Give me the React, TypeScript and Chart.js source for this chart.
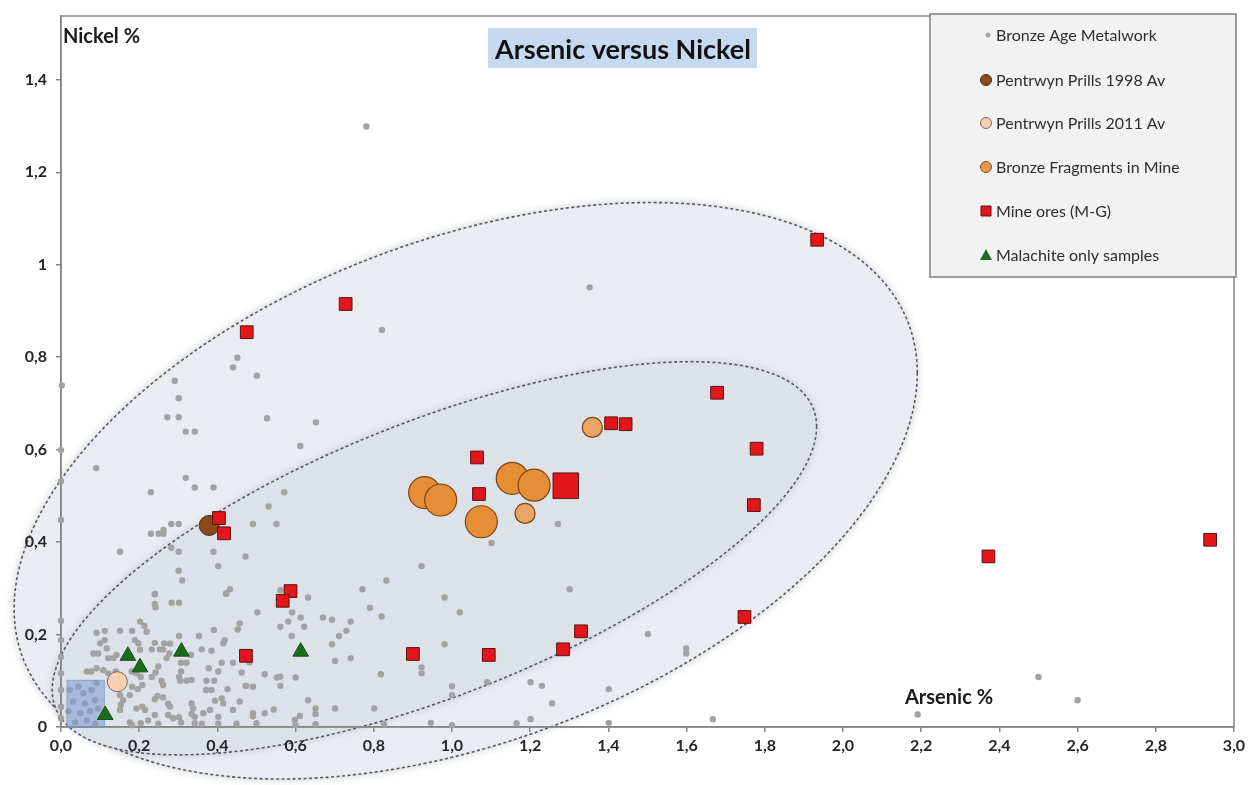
import React, { useEffect, useRef } from 'react';
import { Chart, registerables } from 'chart.js';

Chart.register(...registerables);

// ---------- data ----------
const metalworkArsenic = [
  0.781, 1.352, 0.821, 0.451, 0.440, 0.501, 0.291, 0.002, 0.301, 0.272,
  0.301, 0.319, 0.342, 0.527, 0.652, 0.612, 0.090, 0.319, 0.342, 0.390,
  0.230, 0.571, 0.531, 0.491, 0.551, 0.282, 0.301, 0.230, 0.250, 0.262,
  0.262, 0.151, 0.282, 0.301, 0.390, 0.472, 0.402, 0.301, 0.310, 0.240,
  0.432, 0.422, 0.561, 0.632, 0.771, 0.000, 0.000, 0.000, 0.000, 1.271,
  1.101, 0.922, 0.832, 1.301, 0.981, 0.790, 1.020, 0.820, 1.501, 1.599,
  1.599, 0.981, 0.922, 0.922, 0.818, 1.000, 1.000, 1.090, 1.201, 1.230,
  1.256, 1.401, 1.401, 1.201, 1.165, 1.667, 0.946, 1.000, 0.826, 0.801,
  2.191, 2.500, 2.600, 0.502, 0.591, 0.613, 0.581, 0.561, 0.622, 0.670,
  0.693, 0.741, 0.730, 0.711, 0.590, 0.693, 0.701, 0.741, 0.482, 0.521,
  0.552, 0.561, 0.600, 0.561, 0.474, 0.491, 0.632, 0.544, 0.521, 0.491,
  0.491, 0.500, 0.598, 0.611, 0.600, 0.651, 0.651, 0.651, 0.701, 0.240,
  0.240, 0.242, 0.283, 0.302, 0.423, 0.202, 0.213, 0.219, 0.091, 0.112,
  0.151, 0.182, 0.302, 0.353, 0.391, 0.457, 0.452, 0.100, 0.112, 0.117,
  0.189, 0.198, 0.202, 0.240, 0.264, 0.279, 0.232, 0.253, 0.261, 0.419,
  0.415, 0.360, 0.083, 0.095, 0.121, 0.134, 0.142, 0.277, 0.270, 0.385,
  0.332, 0.321, 0.307, 0.307, 0.249, 0.242, 0.411, 0.440, 0.066, 0.077,
  0.091, 0.108, 0.121, 0.140, 0.181, 0.193, 0.204, 0.208, 0.232, 0.257,
  0.261, 0.302, 0.305, 0.321, 0.334, 0.378, 0.402, 0.462, 0.182, 0.196,
  0.372, 0.392, 0.371, 0.385, 0.426, 0.472, 0.151, 0.159, 0.153, 0.176,
  0.240, 0.247, 0.261, 0.274, 0.279, 0.334, 0.338, 0.394, 0.411, 0.415,
  0.440, 0.457, 0.151, 0.193, 0.208, 0.215, 0.240, 0.274, 0.287, 0.302,
  0.307, 0.334, 0.342, 0.364, 0.381, 0.402, 0.176, 0.182, 0.204, 0.223,
  0.249, 0.342, 0.360, 0.402, 0.449, 0.023, 0.044, 0.057, 0.078, 0.091,
  0.031, 0.061, 0.087, 0.019, 0.049, 0.074, 0.095, 0.036, 0.066, 0.087,
  0.000, 0.000, 0.000, 0.000, 0.000, 0.000,
];
const metalworkNickel = [
  1.299, 0.951, 0.859, 0.799, 0.778, 0.760, 0.749, 0.739, 0.711, 0.670,
  0.670, 0.639, 0.639, 0.668, 0.659, 0.608, 0.560, 0.539, 0.518, 0.518,
  0.508, 0.508, 0.477, 0.439, 0.439, 0.439, 0.439, 0.418, 0.418, 0.426,
  0.418, 0.379, 0.388, 0.379, 0.379, 0.369, 0.348, 0.338, 0.317, 0.287,
  0.298, 0.289, 0.296, 0.280, 0.298, 0.599, 0.531, 0.448, 0.230, 0.439,
  0.398, 0.348, 0.317, 0.298, 0.280, 0.258, 0.248, 0.239, 0.201, 0.170,
  0.159, 0.179, 0.129, 0.116, 0.114, 0.088, 0.069, 0.097, 0.097, 0.089,
  0.051, 0.082, 0.009, 0.017, 0.008, 0.017, 0.009, 0.004, 0.006, 0.040,
  0.027, 0.108, 0.058, 0.248, 0.248, 0.237, 0.228, 0.217, 0.217, 0.237,
  0.232, 0.228, 0.208, 0.197, 0.197, 0.179, 0.143, 0.149, 0.140, 0.114,
  0.107, 0.109, 0.107, 0.089, 0.089, 0.087, 0.058, 0.038, 0.030, 0.030,
  0.023, 0.008, 0.015, 0.024, 0.004, 0.040, 0.028, 0.006, 0.040, 0.288,
  0.266, 0.259, 0.269, 0.269, 0.288, 0.228, 0.219, 0.206, 0.204, 0.208,
  0.208, 0.208, 0.197, 0.197, 0.210, 0.224, 0.211, 0.181, 0.188, 0.170,
  0.188, 0.181, 0.167, 0.182, 0.181, 0.180, 0.168, 0.168, 0.168, 0.188,
  0.181, 0.168, 0.159, 0.159, 0.149, 0.149, 0.156, 0.159, 0.149, 0.165,
  0.156, 0.139, 0.139, 0.120, 0.131, 0.118, 0.139, 0.139, 0.120, 0.120,
  0.127, 0.123, 0.116, 0.120, 0.120, 0.116, 0.108, 0.091, 0.108, 0.100,
  0.091, 0.108, 0.100, 0.100, 0.102, 0.127, 0.120, 0.118, 0.087, 0.082,
  0.100, 0.100, 0.080, 0.080, 0.082, 0.089, 0.069, 0.058, 0.048, 0.069,
  0.060, 0.067, 0.064, 0.051, 0.044, 0.051, 0.040, 0.057, 0.062, 0.051,
  0.037, 0.055, 0.037, 0.040, 0.044, 0.037, 0.026, 0.026, 0.019, 0.021,
  0.010, 0.028, 0.022, 0.030, 0.037, 0.022, 0.010, 0.004, 0.008, 0.014,
  0.007, 0.008, 0.007, 0.007, 0.007, 0.080, 0.087, 0.073, 0.080, 0.095,
  0.055, 0.051, 0.058, 0.034, 0.030, 0.034, 0.040, 0.010, 0.014, 0.007,
  0.188, 0.152, 0.116, 0.080, 0.044, 0.019,
];

const prills1998Arsenic = [0.379];
const prills1998Nickel = [0.436];

const prills2011Arsenic = [0.144];
const prills2011Nickel = [0.098];

const fragmentArsenic = [0.930, 0.971, 1.075, 1.154, 1.210, 1.187, 1.359];
const fragmentNickel = [0.507, 0.491, 0.444, 0.538, 0.523, 0.462, 0.648];

const oreArsenic = [
  0.475, 0.728, 1.934, 0.404, 0.417, 0.587, 0.567, 0.473, 1.064, 1.069,
  1.291, 1.407, 1.444, 1.678, 1.779, 1.772, 1.748, 1.330, 1.284, 1.094,
  0.900, 2.372, 2.939,
];
const oreNickel = [
  0.854, 0.915, 1.054, 0.452, 0.419, 0.294, 0.273, 0.154, 0.583, 0.504,
  0.522, 0.657, 0.655, 0.723, 0.602, 0.480, 0.238, 0.207, 0.168, 0.156,
  0.158, 0.369, 0.405,
];

const malachiteArsenic = [0.171, 0.202, 0.308, 0.613, 0.113];
const malachiteNickel = [0.154, 0.129, 0.163, 0.163, 0.026];

const seriesNames = [
  'Bronze Age Metalwork',
  'Pentrwyn Prills 1998 Av',
  'Pentrwyn Prills 2011 Av',
  'Bronze Fragments in Mine',
  'Mine ores (M-G)',
  'Malachite only samples',
];

const xTickLabels = ['0,0', '0,2', '0,4', '0,6', '0,8', '1,0', '1,2', '1,4', '1,6', '1,8', '2,0', '2,2', '2,4', '2,6', '2,8', '3,0'];
const yTickLabels = ['0', '0,2', '0,4', '0,6', '0,8', '1', '1,2', '1,4'];

const chartTitle = 'Arsenic versus Nickel';
const yAxisTitle = 'Nickel %';
const xAxisTitle = 'Arsenic %';

// ---------- styling (not data) ----------
const FONT = 'Lato, "Open Sans", sans-serif';
const fragmentRadius = [16, 16, 16, 16, 16, 10, 10];
const fragmentFill = ['#e58e36', '#e58e36', '#e58e36', '#e58e36', '#e58e36', '#eaa466', '#eaa466'];
const oreRadius = oreArsenic.map((_, i) => (i === 10 ? 18 : 9));

// envelopes: centre + two conjugate half-axes, in data units
const outerEnvelope = { cx: 1.035, cy: 0.511, ux: 1.155, uy: 0.255, vx: 0, vy: 0.569 };
const innerEnvelope = { cx: 0.955, cy: 0.365, ux: 0.9775, uy: 0.2846, vx: 0, vy: 0.316 };
// highlighted box near origin (data units)
const originBox = { x0: 0.015, x1: 0.111, y0: 0.0, y1: 0.101 };

function toPoints(xs: number[], ys: number[]) {
  return xs.map((x, i) => ({ x, y: ys[i] }));
}

function traceEnvelope(ctx: CanvasRenderingContext2D, sx: any, sy: any, e: any) {
  ctx.beginPath();
  const n = 240;
  for (let k = 0; k <= n; k++) {
    const t = (k / n) * Math.PI * 2;
    const dx = e.cx + e.ux * Math.cos(t) + e.vx * Math.sin(t);
    const dy = e.cy + e.uy * Math.cos(t) + e.vy * Math.sin(t);
    const px = sx.getPixelForValue(dx);
    const py = sy.getPixelForValue(dy);
    if (k === 0) ctx.moveTo(px, py);
    else ctx.lineTo(px, py);
  }
  ctx.closePath();
}

const backgroundPlugin = {
  id: 'envelopes',
  beforeDraw(chart: any) {
    const { ctx, chartArea, scales } = chart;
    const sx = scales.x;
    const sy = scales.y;
    ctx.save();
    // outer envelope
    traceEnvelope(ctx, sx, sy, outerEnvelope);
    ctx.shadowColor = 'rgba(0,0,0,0.22)';
    ctx.shadowBlur = 10;
    ctx.fillStyle = '#e9ecf1';
    ctx.fill();
    ctx.shadowColor = 'transparent';
    ctx.shadowBlur = 0;
    ctx.setLineDash([3, 2.5]);
    ctx.lineWidth = 1.6;
    ctx.strokeStyle = '#555a60';
    ctx.stroke();
    // inner envelope
    traceEnvelope(ctx, sx, sy, innerEnvelope);
    ctx.setLineDash([]);
    ctx.shadowColor = 'rgba(0,0,0,0.15)';
    ctx.shadowBlur = 8;
    ctx.fillStyle = '#dde1e8';
    ctx.fill();
    ctx.shadowColor = 'transparent';
    ctx.shadowBlur = 0;
    ctx.setLineDash([3, 2.5]);
    ctx.stroke();
    ctx.setLineDash([]);
    // plot frame
    ctx.strokeStyle = '#868686';
    ctx.lineWidth = 1.5;
    ctx.strokeRect(chartArea.left, chartArea.top, chartArea.right - chartArea.left, chartArea.bottom - chartArea.top);
    ctx.restore();
  },
  afterDatasetDraw(chart: any, args: any) {
    if (args.index !== chart.data.datasets.length - 1) return;
    const { ctx, scales } = chart;
    const x0 = scales.x.getPixelForValue(originBox.x0);
    const x1 = scales.x.getPixelForValue(originBox.x1);
    const y0 = scales.y.getPixelForValue(originBox.y0);
    const y1 = scales.y.getPixelForValue(originBox.y1);
    ctx.save();
    ctx.fillStyle = 'rgba(120,156,210,0.55)';
    ctx.fillRect(x0, y1, x1 - x0, y0 - y1);
    ctx.strokeStyle = 'rgba(110,140,195,0.6)';
    ctx.lineWidth = 1;
    ctx.strokeRect(x0, y1, x1 - x0, y0 - y1);
    ctx.restore();
  },
  afterDraw(chart: any) {
    const { ctx } = chart;
    ctx.save();
    // title
    ctx.fillStyle = '#c6d9f1';
    ctx.fillRect(488, 28, 269, 40);
    ctx.fillStyle = '#111111';
    ctx.font = `bold 27px ${FONT}`;
    ctx.textAlign = 'center';
    ctx.textBaseline = 'alphabetic';
    ctx.fillText(chartTitle, 623, 59);
    // axis titles
    ctx.textAlign = 'left';
    ctx.textBaseline = 'alphabetic';
    ctx.font = `bold 20px ${FONT}`;
    ctx.fillStyle = '#1a1a1a';
    ctx.fillText(yAxisTitle, 63, 43);
    ctx.fillText(xAxisTitle, 905, 704);
    // legend box
    ctx.fillStyle = '#f2f2f2';
    ctx.fillRect(930, 14, 306, 263);
    ctx.strokeStyle = '#7f7f7f';
    ctx.lineWidth = 1.5;
    ctx.strokeRect(930, 14, 306, 263);
    const rows = [35, 80, 123, 167, 211, 255];
    const mx = 986;
    ctx.font = `16px ${FONT}`;
    ctx.textBaseline = 'middle';
    rows.forEach((ry, i) => {
      ctx.lineWidth = 1;
      ctx.beginPath();
      if (i === 0) {
        ctx.arc(mx + 2, ry, 2.5, 0, Math.PI * 2);
        ctx.fillStyle = '#a6a6a6';
        ctx.fill();
      } else if (i === 1 || i === 2 || i === 3) {
        ctx.arc(mx, ry, 5.5, 0, Math.PI * 2);
        ctx.fillStyle = i === 1 ? '#8b4a1c' : i === 2 ? '#f8cfb0' : '#e8974a';
        ctx.fill();
        ctx.strokeStyle = i === 1 ? '#4d2a10' : i === 2 ? '#7a6a60' : '#8a5020';
        ctx.stroke();
      } else if (i === 4) {
        ctx.rect(mx - 5, ry - 5, 10, 10);
        ctx.fillStyle = '#e3161c';
        ctx.fill();
        ctx.strokeStyle = '#5a1010';
        ctx.stroke();
      } else {
        ctx.moveTo(mx, ry - 6);
        ctx.lineTo(mx + 6, ry + 5);
        ctx.lineTo(mx - 6, ry + 5);
        ctx.closePath();
        ctx.fillStyle = '#1d6b1d';
        ctx.fill();
      }
      ctx.fillStyle = '#2e2e2e';
      ctx.fillText(seriesNames[i], 996, ry + 1);
    });
    ctx.restore();
  },
};

export default function App() {
  const canvasRef = useRef<HTMLCanvasElement | null>(null);

  useEffect(() => {
    document.body.style.margin = '0';
    const canvas = canvasRef.current;
    if (!canvas) return;

    const tickFont = { family: FONT, size: 16, weight: 'bold' as const };

    const chart = new Chart(canvas, {
      type: 'scatter',
      data: {
        datasets: [
          {
            label: seriesNames[4],
            data: toPoints(oreArsenic, oreNickel),
            pointStyle: 'rect',
            backgroundColor: '#e3161c',
            borderColor: '#5a1010',
            borderWidth: 1,
            pointRadius: oreRadius,
            clip: false,
          },
          {
            label: seriesNames[3],
            data: toPoints(fragmentArsenic, fragmentNickel),
            backgroundColor: fragmentFill,
            borderColor: '#7a4512',
            borderWidth: 1.2,
            pointRadius: fragmentRadius,
            clip: false,
          },
          {
            label: seriesNames[2],
            data: toPoints(prills2011Arsenic, prills2011Nickel),
            backgroundColor: '#f8cfb0',
            borderColor: '#6f6660',
            borderWidth: 1,
            pointRadius: 10,
            clip: false,
          },
          {
            label: seriesNames[1],
            data: toPoints(prills1998Arsenic, prills1998Nickel),
            backgroundColor: '#8b4a1c',
            borderColor: '#4d2a10',
            borderWidth: 1,
            pointRadius: 10,
            clip: false,
          },
          {
            label: seriesNames[5],
            data: toPoints(malachiteArsenic, malachiteNickel),
            pointStyle: 'triangle',
            backgroundColor: '#1d6b1d',
            borderColor: '#144d14',
            borderWidth: 1,
            pointRadius: 9,
            clip: false,
          },
          {
            label: seriesNames[0],
            data: toPoints(metalworkArsenic, metalworkNickel),
            backgroundColor: '#a2a2a2',
            borderWidth: 0,
            pointRadius: 3.2,
            clip: false,
          },
        ] as any,
      },
      options: {
        responsive: false,
        animation: false,
        devicePixelRatio: 1,
        events: [],
        layout: { autoPadding: false, padding: { left: 0, right: 16, top: 16, bottom: 0 } },
        plugins: {
          legend: { display: false },
          title: { display: false },
          tooltip: { enabled: false },
        },
        scales: {
          x: {
            type: 'linear',
            min: 0,
            max: 3.0,
            afterFit: (s: any) => { s.height = 58; s.paddingLeft = 0; s.paddingRight = 0; },
            grid: { display: true, drawOnChartArea: false, drawTicks: true, tickLength: 5, color: '#868686', lineWidth: 1.5 },
            border: { display: true, color: '#868686', width: 1.5 },
            ticks: {
              stepSize: 0.2,
              autoSkip: false,
              maxRotation: 0,
              includeBounds: false,
              padding: 4,
              color: '#262626',
              font: tickFont,
              callback: (v: any) => xTickLabels[Math.round(Number(v) / 0.2)] ?? '',
            },
          },
          y: {
            type: 'linear',
            min: 0,
            max: 1.538,
            afterFit: (s: any) => { s.width = 61; s.paddingTop = 0; s.paddingBottom = 0; },
            grid: { display: true, drawOnChartArea: false, drawTicks: true, tickLength: 5, color: '#868686', lineWidth: 1.5 },
            border: { display: true, color: '#868686', width: 1.5 },
            ticks: {
              stepSize: 0.2,
              autoSkip: false,
              includeBounds: false,
              padding: 9,
              color: '#262626',
              font: tickFont,
              callback: (v: any) => yTickLabels[Math.round(Number(v) / 0.2)] ?? '',
            },
          },
        },
      } as any,
      plugins: [backgroundPlugin],
    });

    if ((document as any).fonts && (document as any).fonts.ready) {
      (document as any).fonts.ready.then(() => chart.update());
    }

    return () => chart.destroy();
  }, []);

  return (
    <div style={{ position: 'fixed', left: 0, top: 0, width: 1250, height: 785, background: '#ffffff' }}>
      <canvas ref={canvasRef} width={1250} height={785} style={{ display: 'block', width: 1250, height: 785 }} />
    </div>
  );
}
